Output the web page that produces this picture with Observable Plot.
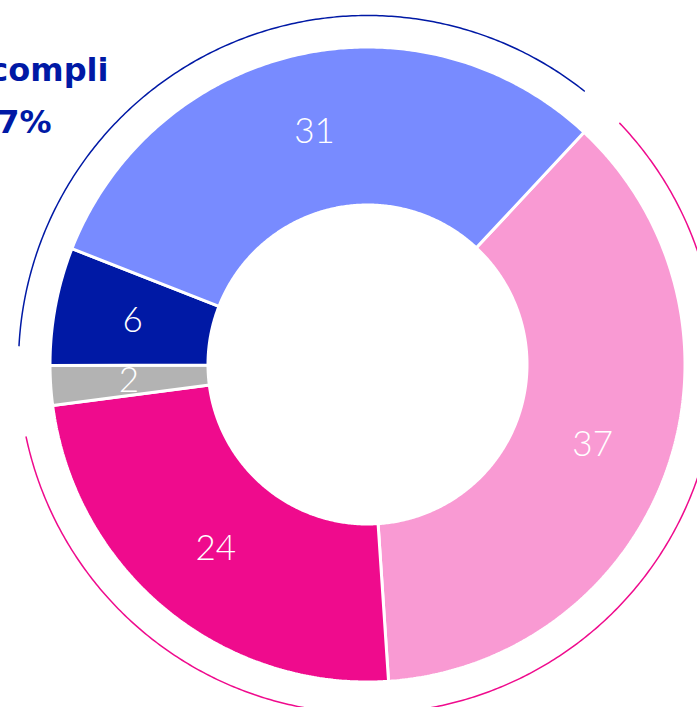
<!DOCTYPE html>
<html>
<head>
<meta charset="utf-8">
<script src="https://cdn.jsdelivr.net/npm/d3@7"></script>
<script src="https://cdn.jsdelivr.net/npm/@observablehq/plot@0.6"></script>
<style>
  html, body { margin: 0; padding: 0; background: #fff; overflow: hidden; }
  #chart svg { display: block; }
</style>
</head>
<body>
<div id="chart"></div>
<script>
// Slices in clockwise order, starting at 43° from the top
const categories = ["s37", "s24", "s2", "s6", "s31"];
const values = [37, 24, 2, 6, 31];
const sliceColors = ["#f99ad3", "#ef0b8d", "#b3b3b3", "#0019a5", "#788bff"];
const sliceGroups = ["pink", "pink", "none", "blue", "blue"];
const groupNames = ["blue", "pink"];
const groupColors = ["#0019a5", "#ef0b8d"];
const groupLabel = ["Accompli", "37%"];

const startAngle = 43;        // degrees clockwise from top
const rOuter = 317.5, rInner = 159.5, rLabel = 239, rRing = 349;
const total = d3.sum(values);

const pt = (r, a) => {
  const t = a * Math.PI / 180;
  return [r * Math.sin(t), -r * Math.cos(t)];
};

// slice angles
let acc = startAngle;
const slices = values.map((v, i) => {
  const a0 = acc, a1 = acc + v / total * 360;
  acc = a1;
  return {cat: categories[i], value: v, a0, a1, group: sliceGroups[i]};
});

// polygons for slices
const polyPts = [];
for (const s of slices) {
  const pts = [];
  const n = Math.max(4, Math.ceil((s.a1 - s.a0) / 0.5));
  for (let k = 0; k <= n; k++) pts.push(pt(rOuter, s.a0 + (s.a1 - s.a0) * k / n));
  for (let k = n; k >= 0; k--) pts.push(pt(rInner, s.a0 + (s.a1 - s.a0) * k / n));
  pts.push(pts[0]);
  for (const [x, y] of pts) polyPts.push({cat: s.cat, x, y});
}

// outer group rings
const ringPts = [];
for (const g of groupNames) {
  const ss = slices.filter(s => s.group === g);
  const a0 = d3.min(ss, s => s.a0) + 3.3;
  const a1 = d3.max(ss, s => s.a1) - 4.6;
  const n = Math.ceil((a1 - a0) / 0.5);
  for (let k = 0; k <= n; k++) {
    const [x, y] = pt(rRing, a0 + (a1 - a0) * k / n);
    ringPts.push({group: g, x, y});
  }
}

// labels
const labels = slices.map(s => {
  const [x, y] = pt(rLabel, (s.a0 + s.a1) / 2);
  return {x, y, text: String(s.value)};
});

const labelFont = "'DejaVu Sans', Lato, sans-serif";

const chart = Plot.plot({
  width: 697,
  height: 707,
  margin: 0,
  x: {domain: [-367, 330], range: [0, 697], axis: null},
  y: {domain: [-364, 343], range: [0, 707], axis: null},
  color: {domain: categories, range: sliceColors},
  marks: [
    Plot.line(polyPts, {x: "x", y: "y", z: "cat", fill: "cat", stroke: "white", strokeWidth: 3, curve: "linear", strokeLinejoin: "miter"}),
    Plot.line(ringPts, {x: "x", y: "y", z: "group", stroke: d => groupColors[groupNames.indexOf(d.group)], strokeWidth: 1.5, fill: "none"}),
    Plot.text(labels, {x: "x", y: "y", text: "text", fill: "white", fontSize: 35, fontWeight: 300, fontFamily: "Lato, 'Open Sans', sans-serif"}),
    Plot.text([groupLabel[0]], {frameAnchor: "top-left", text: d => d, dx: 108, dy: 58, textAnchor: "end", fill: "#0019a5", fontSize: 32, fontWeight: 700, fontFamily: labelFont}),
    Plot.text([groupLabel[1]], {frameAnchor: "top-left", text: d => d, dx: 51, dy: 110, textAnchor: "end", fill: "#0019a5", fontSize: 32, fontWeight: 700, fontFamily: labelFont})
  ]
});
document.getElementById("chart").appendChild(chart);
</script>
</body>
</html>
